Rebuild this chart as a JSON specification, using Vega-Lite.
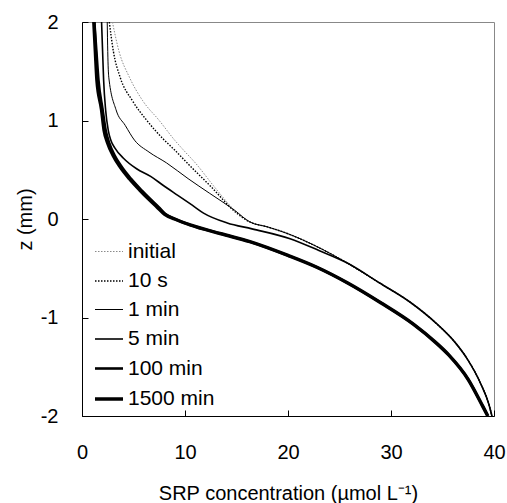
{
  "$schema": "https://vega.github.io/schema/vega-lite/v6.json",
  "width": 412,
  "height": 394,
  "autosize": "none",
  "padding": {"left": 82, "top": 22, "right": 13, "bottom": 87},
  "background": "white",
  "config": {
    "view": {"stroke": "#888888", "strokeWidth": 1},
    "axis": {
      "grid": false,
      "domainColor": "black",
      "domainWidth": 1,
      "tickColor": "black",
      "labelFont": "Liberation Sans",
      "labelFontSize": 20,
      "labelColor": "black",
      "titleFont": "Liberation Sans",
      "titleFontSize": 20,
      "titleFontWeight": "normal",
      "titleColor": "black"
    }
  },
  "data": {
    "values": [
      {"s": "initial", "c": 2.95, "z": 2.0},
      {"s": "initial", "c": 3.6, "z": 1.7},
      {"s": "initial", "c": 4.6, "z": 1.44},
      {"s": "initial", "c": 5.9, "z": 1.2},
      {"s": "initial", "c": 7.5, "z": 1.0},
      {"s": "initial", "c": 9.0, "z": 0.8},
      {"s": "initial", "c": 9.85, "z": 0.7},
      {"s": "initial", "c": 11.0, "z": 0.57},
      {"s": "initial", "c": 12.9, "z": 0.32},
      {"s": "initial", "c": 15.0, "z": 0.07},
      {"s": "initial", "c": 16.3, "z": -0.03},
      {"s": "initial", "c": 18.0, "z": -0.08},
      {"s": "initial", "c": 20.0, "z": -0.15},
      {"s": "initial", "c": 22.8, "z": -0.28},
      {"s": "initial", "c": 25.8, "z": -0.45},
      {"s": "initial", "c": 28.9, "z": -0.65},
      {"s": "initial", "c": 31.8, "z": -0.84},
      {"s": "initial", "c": 34.4, "z": -1.06},
      {"s": "initial", "c": 36.2, "z": -1.25},
      {"s": "initial", "c": 37.4, "z": -1.42},
      {"s": "initial", "c": 38.7, "z": -1.67},
      {"s": "initial", "c": 39.5, "z": -1.88},
      {"s": "initial", "c": 39.8, "z": -2.0},

      {"s": "10 s", "c": 2.65, "z": 2.0},
      {"s": "10 s", "c": 3.05, "z": 1.7},
      {"s": "10 s", "c": 3.7, "z": 1.44},
      {"s": "10 s", "c": 4.9, "z": 1.2},
      {"s": "10 s", "c": 6.3, "z": 1.0},
      {"s": "10 s", "c": 8.0, "z": 0.8},
      {"s": "10 s", "c": 9.0, "z": 0.7},
      {"s": "10 s", "c": 10.2, "z": 0.57},
      {"s": "10 s", "c": 12.6, "z": 0.32},
      {"s": "10 s", "c": 14.9, "z": 0.07},
      {"s": "10 s", "c": 16.3, "z": -0.03},
      {"s": "10 s", "c": 18.0, "z": -0.08},
      {"s": "10 s", "c": 20.0, "z": -0.15},
      {"s": "10 s", "c": 22.8, "z": -0.28},
      {"s": "10 s", "c": 25.8, "z": -0.45},
      {"s": "10 s", "c": 28.9, "z": -0.65},
      {"s": "10 s", "c": 31.8, "z": -0.84},
      {"s": "10 s", "c": 34.4, "z": -1.06},
      {"s": "10 s", "c": 36.2, "z": -1.25},
      {"s": "10 s", "c": 37.4, "z": -1.42},
      {"s": "10 s", "c": 38.7, "z": -1.67},
      {"s": "10 s", "c": 39.5, "z": -1.88},
      {"s": "10 s", "c": 39.8, "z": -2.0},

      {"s": "1 min", "c": 2.45, "z": 2.0},
      {"s": "1 min", "c": 2.5, "z": 1.7},
      {"s": "1 min", "c": 2.6, "z": 1.44},
      {"s": "1 min", "c": 3.3, "z": 1.11},
      {"s": "1 min", "c": 4.2, "z": 0.95},
      {"s": "1 min", "c": 5.1, "z": 0.8},
      {"s": "1 min", "c": 6.5, "z": 0.68},
      {"s": "1 min", "c": 8.2, "z": 0.57},
      {"s": "1 min", "c": 10.3, "z": 0.41},
      {"s": "1 min", "c": 12.4, "z": 0.26},
      {"s": "1 min", "c": 14.8, "z": 0.09},
      {"s": "1 min", "c": 16.3, "z": -0.03},
      {"s": "1 min", "c": 18.0, "z": -0.08},
      {"s": "1 min", "c": 20.0, "z": -0.15},
      {"s": "1 min", "c": 22.8, "z": -0.28},
      {"s": "1 min", "c": 25.8, "z": -0.45},
      {"s": "1 min", "c": 28.9, "z": -0.65},
      {"s": "1 min", "c": 31.8, "z": -0.84},
      {"s": "1 min", "c": 34.4, "z": -1.06},
      {"s": "1 min", "c": 36.2, "z": -1.25},
      {"s": "1 min", "c": 37.4, "z": -1.42},
      {"s": "1 min", "c": 38.7, "z": -1.67},
      {"s": "1 min", "c": 39.5, "z": -1.88},
      {"s": "1 min", "c": 39.8, "z": -2.0},

      {"s": "5 min", "c": 1.9, "z": 2.0},
      {"s": "5 min", "c": 2.0, "z": 1.7},
      {"s": "5 min", "c": 2.1, "z": 1.41},
      {"s": "5 min", "c": 2.3, "z": 1.1},
      {"s": "5 min", "c": 2.55, "z": 0.9},
      {"s": "5 min", "c": 2.8, "z": 0.8},
      {"s": "5 min", "c": 3.2, "z": 0.72},
      {"s": "5 min", "c": 4.0, "z": 0.62},
      {"s": "5 min", "c": 5.3, "z": 0.51},
      {"s": "5 min", "c": 6.7, "z": 0.43},
      {"s": "5 min", "c": 7.9, "z": 0.34},
      {"s": "5 min", "c": 9.3, "z": 0.24},
      {"s": "5 min", "c": 10.7, "z": 0.14},
      {"s": "5 min", "c": 11.8, "z": 0.06},
      {"s": "5 min", "c": 14.1, "z": -0.04},
      {"s": "5 min", "c": 16.5, "z": -0.1},
      {"s": "5 min", "c": 20.2, "z": -0.2},
      {"s": "5 min", "c": 23.0, "z": -0.32},
      {"s": "5 min", "c": 25.8, "z": -0.45},
      {"s": "5 min", "c": 28.9, "z": -0.65},
      {"s": "5 min", "c": 31.8, "z": -0.84},
      {"s": "5 min", "c": 34.4, "z": -1.06},
      {"s": "5 min", "c": 36.2, "z": -1.25},
      {"s": "5 min", "c": 37.4, "z": -1.42},
      {"s": "5 min", "c": 38.7, "z": -1.67},
      {"s": "5 min", "c": 39.5, "z": -1.88},
      {"s": "5 min", "c": 39.8, "z": -2.0},

      {"s": "100 min", "c": 1.2, "z": 2.0},
      {"s": "100 min", "c": 1.4, "z": 1.7},
      {"s": "100 min", "c": 1.6, "z": 1.41},
      {"s": "100 min", "c": 2.0, "z": 1.11},
      {"s": "100 min", "c": 2.3, "z": 0.9},
      {"s": "100 min", "c": 2.65, "z": 0.77},
      {"s": "100 min", "c": 3.15, "z": 0.65},
      {"s": "100 min", "c": 3.85, "z": 0.53},
      {"s": "100 min", "c": 4.75, "z": 0.41},
      {"s": "100 min", "c": 5.8, "z": 0.29},
      {"s": "100 min", "c": 6.65, "z": 0.2},
      {"s": "100 min", "c": 7.45, "z": 0.12},
      {"s": "100 min", "c": 8.1, "z": 0.05},
      {"s": "100 min", "c": 9.0, "z": 0.0},
      {"s": "100 min", "c": 10.5, "z": -0.06},
      {"s": "100 min", "c": 13.5, "z": -0.15},
      {"s": "100 min", "c": 16.3, "z": -0.23},
      {"s": "100 min", "c": 20.0, "z": -0.37},
      {"s": "100 min", "c": 22.8, "z": -0.49},
      {"s": "100 min", "c": 25.8, "z": -0.65},
      {"s": "100 min", "c": 29.0, "z": -0.85},
      {"s": "100 min", "c": 32.2, "z": -1.07},
      {"s": "100 min", "c": 34.3, "z": -1.25},
      {"s": "100 min", "c": 35.6, "z": -1.38},
      {"s": "100 min", "c": 37.5, "z": -1.63},
      {"s": "100 min", "c": 38.9, "z": -1.9},
      {"s": "100 min", "c": 39.4, "z": -2.0},

      {"s": "1500 min", "c": 1.15, "z": 2.0},
      {"s": "1500 min", "c": 1.3, "z": 1.7},
      {"s": "1500 min", "c": 1.45, "z": 1.41},
      {"s": "1500 min", "c": 1.9, "z": 1.11},
      {"s": "1500 min", "c": 2.15, "z": 0.9},
      {"s": "1500 min", "c": 2.5, "z": 0.77},
      {"s": "1500 min", "c": 3.0, "z": 0.65},
      {"s": "1500 min", "c": 3.7, "z": 0.53},
      {"s": "1500 min", "c": 4.6, "z": 0.41},
      {"s": "1500 min", "c": 5.65, "z": 0.29},
      {"s": "1500 min", "c": 6.5, "z": 0.2},
      {"s": "1500 min", "c": 7.3, "z": 0.12},
      {"s": "1500 min", "c": 8.0, "z": 0.05},
      {"s": "1500 min", "c": 9.0, "z": 0.0},
      {"s": "1500 min", "c": 10.5, "z": -0.06},
      {"s": "1500 min", "c": 13.5, "z": -0.15},
      {"s": "1500 min", "c": 16.3, "z": -0.23},
      {"s": "1500 min", "c": 20.0, "z": -0.37},
      {"s": "1500 min", "c": 22.8, "z": -0.49},
      {"s": "1500 min", "c": 25.8, "z": -0.65},
      {"s": "1500 min", "c": 29.0, "z": -0.85},
      {"s": "1500 min", "c": 32.2, "z": -1.07},
      {"s": "1500 min", "c": 34.3, "z": -1.25},
      {"s": "1500 min", "c": 35.6, "z": -1.38},
      {"s": "1500 min", "c": 37.5, "z": -1.63},
      {"s": "1500 min", "c": 38.9, "z": -1.9},
      {"s": "1500 min", "c": 39.4, "z": -2.0}
    ]
  },
  "mark": {"type": "line", "clip": true, "interpolate": "monotone"},
  "encoding": {
    "x": {
      "field": "c",
      "type": "quantitative",
      "scale": {"domain": [0, 40], "nice": false, "zero": false},
      "axis": {
        "title": "SRP concentration (µmol L⁻¹)",
        "values": [0, 10, 20, 30, 40],
        "tickSize": -6,
        "labelPadding": 32,
        "labelExpr": "'' + datum.value",
        "labelFlush": false,
        "titleY": 77,
        "titleBaseline": "middle"
      }
    },
    "y": {
      "field": "z",
      "type": "quantitative",
      "scale": {"domain": [-2, 2], "nice": false, "zero": false},
      "axis": {
        "title": "z (mm)",
        "values": [-2, -1, 0, 1, 2],
        "tickSize": -6,
        "labelPadding": 30,
        "labelExpr": "'' + datum.value",
        "labelFlush": false,
        "titleX": -57,
        "titleY": 197,
        "titleAngle": -90,
        "titleAlign": "center",
        "titleBaseline": "middle"
      }
    },
    "order": {"field": "z", "sort": "descending"},
    "color": {
      "field": "s",
      "type": "nominal",
      "sort": ["initial", "10 s", "1 min", "5 min", "100 min", "1500 min"],
      "scale": {
        "type": "ordinal",
        "domain": ["initial", "10 s", "1 min", "5 min", "100 min", "1500 min"],
        "range": ["#8a8a8a", "#000000", "#000000", "#000000", "#000000", "#000000"]
      },
      "legend": {
        "orient": "none",
        "legendX": 11,
        "legendY": 215,
        "title": null,
        "symbolType": "stroke",
        "symbolSize": 784,
        "rowPadding": 4,
        "labelOffset": 3,
        "padding": 0,
        "labelFont": "Liberation Sans",
        "labelFontSize": 21,
        "labelColor": "black"
      }
    },
    "strokeWidth": {
      "field": "s",
      "type": "nominal",
      "sort": ["initial", "10 s", "1 min", "5 min", "100 min", "1500 min"],
      "scale": {
        "type": "ordinal",
        "domain": ["initial", "10 s", "1 min", "5 min", "100 min", "1500 min"],
        "range": [1, 1.4, 1, 1.6, 2.6, 3.5]
      }
    },
    "strokeDash": {
      "field": "s",
      "type": "nominal",
      "sort": ["initial", "10 s", "1 min", "5 min", "100 min", "1500 min"],
      "scale": {
        "type": "ordinal",
        "domain": ["initial", "10 s", "1 min", "5 min", "100 min", "1500 min"],
        "range": [[1.5, 1.5], [1.5, 1.5], [], [], [], []]
      }
    }
  }
}
